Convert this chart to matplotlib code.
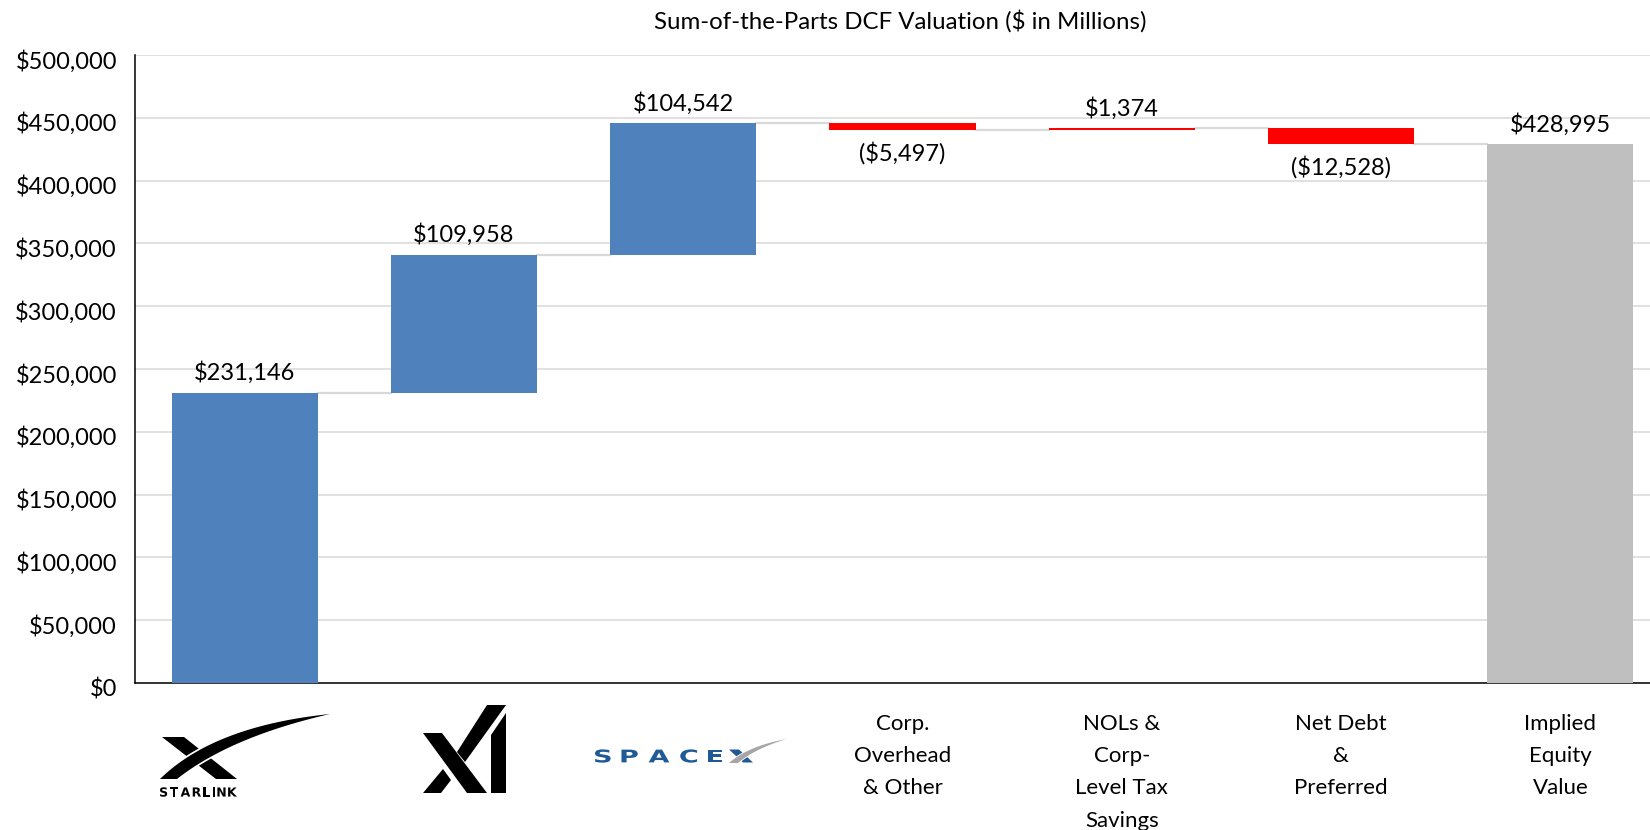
import numpy as np
import matplotlib
matplotlib.use("Agg")
import matplotlib.pyplot as plt
from matplotlib.patches import Polygon, PathPatch
from matplotlib.textpath import TextPath
from matplotlib.font_manager import FontProperties
from matplotlib.transforms import Affine2D, ScaledTranslation
from matplotlib.ticker import FuncFormatter

plt.rcParams['font.family'] = ['Lato', 'DejaVu Sans']

# data ($ in millions)
categories = ['Starlink', 'xAI', 'SpaceX', 'Corp.\nOverhead\n& Other',
              'NOLs &\nCorp-\nLevel Tax\nSavings', 'Net Debt\n&\nPreferred',
              'Implied\nEquity\nValue']
deltas = [231146, 109958, 104542, -5497, 1374, -12528]
total = 428995
yticks = [0, 50000, 100000, 150000, 200000, 250000, 300000, 350000, 400000, 450000, 500000]

BLUE = '#4F81BD'
RED = '#FF0000'
GREY = '#BFBFBF'
LINE = '#D9D9D9'

W, H = 1650, 830
fig = plt.figure(figsize=(W/100, H/100), dpi=100)
ax = fig.add_axes([135/W, 1-683/H, 1535/W, 628/H])

bw = 0.666
x = np.arange(len(categories))
start = 0
ends = []
for i, d in enumerate(deltas):
    end = start + d
    col = RED if (d < 0 or i >= 3) else BLUE
    ax.bar(i, abs(d), bottom=min(start, end), width=bw, color=col, zorder=3)
    if d >= 0:
        ax.annotate(f'${d:,.0f}', (i, max(start, end)), xytext=(0, 9), textcoords='offset points',
                    ha='center', va='baseline', fontsize=17)
    else:
        ax.annotate(f'(${-d:,.0f})', (i, min(start, end)), xytext=(0, -8), textcoords='offset points',
                    ha='center', va='top', fontsize=17)
    ends.append(end)
    start = end
ax.bar(len(deltas), total, width=bw, color=GREY, zorder=3)
ax.annotate(f'${total:,.0f}', (len(deltas), total), xytext=(0, 9), textcoords='offset points',
            ha='center', va='baseline', fontsize=17)

# connectors
for i, lvl in enumerate(ends):
    ax.plot([i + bw/2, i + 1 - bw/2], [lvl, lvl], color=LINE, lw=1.6, zorder=2)

ax.set_xlim(-0.5, len(categories) - 0.5)
ax.set_ylim(0, 500000)
ax.set_yticks(yticks)
ax.yaxis.set_major_formatter(FuncFormatter(lambda v, p: f'${v:,.0f}'))
ax.grid(axis='y', color=LINE, lw=1.1, zorder=0)
ax.set_axisbelow(True)
ax.tick_params(axis='y', length=0, pad=13, labelsize=17)
ax.tick_params(axis='x', length=0, pad=22, labelsize=16)
for lab in ax.get_yticklabels():
    lab.set_transform(lab.get_transform() + ScaledTranslation(0, -3/72, fig.dpi_scale_trans))
ax.set_xticks(x)
ax.set_xticklabels(['', '', ''] + categories[3:], linespacing=1.77, va='top')
for s in ['top', 'right']:
    ax.spines[s].set_visible(False)
for s in ['left', 'bottom']:
    ax.spines[s].set_color('black')
    ax.spines[s].set_linewidth(1.1)

fig.text(900/W, 1-21/H, 'Sum-of-the-Parts DCF Valuation ($ in Millions)', ha='center', va='center',
         fontsize=17.3)

# logo overlay in pixel coordinates
lax = fig.add_axes([0, 0, 1, 1])
lax.set_xlim(0, W)
lax.set_ylim(H, 0)
lax.axis('off')
fp = FontProperties(family='DejaVu Sans', weight='bold')


def qbez(p0, p1, p2, n=40):
    t = np.linspace(0, 1, n)[:, None]
    return (1-t)**2*np.array(p0) + 2*(1-t)*t*np.array(p1) + t**2*np.array(p2)


def swoosh(up, lo, color, gap):
    pts = np.vstack([up, lo[::-1]])
    lax.add_patch(Polygon(pts, closed=True, fc='white', ec='white', lw=gap))
    lax.add_patch(Polygon(pts, closed=True, fc=color, ec='none'))


def word(chars, x0, x1, yc, size, sx, color):
    # tracked lettering spread evenly between x0 and x1
    cap = 0.73 * size
    paths = [TextPath((0, 0), ch, size=size, prop=fp) for ch in chars]
    widths = [p.get_extents().width * sx for p in paths]
    gap = (x1 - x0 - sum(widths)) / (len(chars) - 1)
    xc = x0
    for p, w in zip(paths, widths):
        bb = p.get_extents()
        tr = Affine2D().translate(-bb.x0, -cap/2).scale(sx, -1).translate(xc, yc)
        lax.add_patch(PathPatch(tr.transform_path(p), fc=color, ec='none'))
        xc += w + gap


# Starlink
lax.add_patch(Polygon([(162, 737), (184, 737), (237, 779), (216, 779)], closed=True, fc='black', ec='none'))
swoosh(qbez((160, 779), (214, 726), (330, 714)), qbez((177, 779), (230, 737), (330, 714)), 'black', 2.5)
word('STARLINK', 160, 237, 792, 12.5, 1.0, 'black')

# xAI
for poly in [[(423, 733), (442, 733), (487, 793), (467, 793)],
             [(423, 793), (441, 793), (451, 780), (443, 769)],
             [(457, 752), (465, 762), (506, 705), (487, 705)],
             [(491, 735), (506, 713), (506, 793), (491, 793)]]:
    lax.add_patch(Polygon(poly, closed=True, fc='black', ec='none'))

# SpaceX
SPX = '#1F5A96'
word('SPACE', 595, 722, 756, 17.5, 1.55, SPX)
lax.add_patch(Polygon([(729, 749.5), (739, 749.5), (753, 762.5), (743, 762.5)], closed=True, fc=SPX, ec='none'))
swoosh(qbez((729, 763), (748, 746), (787, 739)), qbez((738, 763), (756, 748), (787, 739)), '#A6A6A6', 1.2)

fig.savefig('out.png', dpi=100)
